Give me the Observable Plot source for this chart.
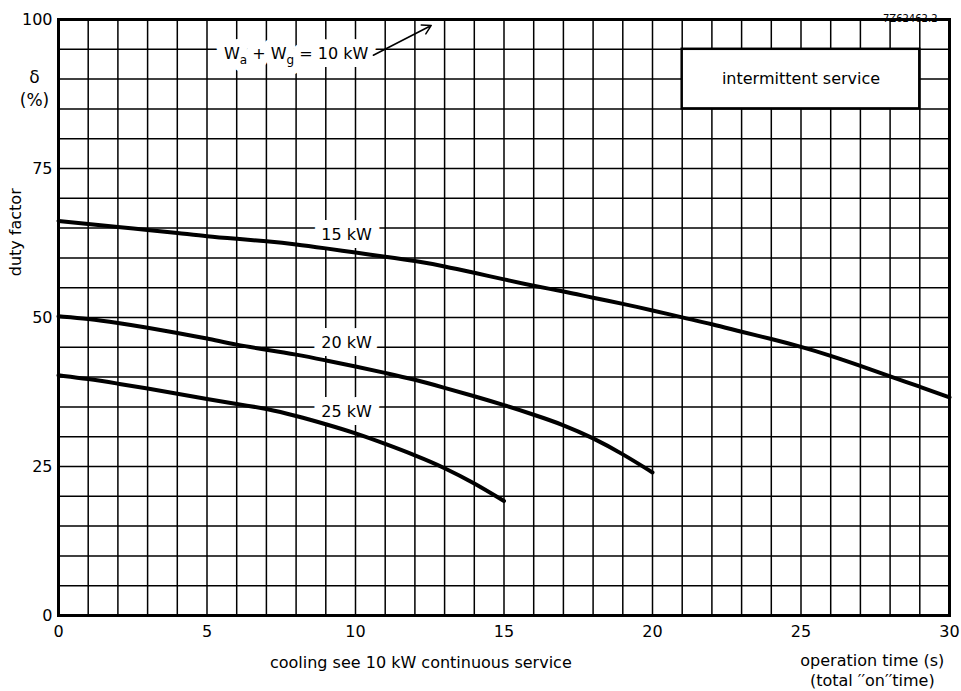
<!DOCTYPE html>
<html><head><meta charset="utf-8">
<script src="https://cdn.jsdelivr.net/npm/d3@7"></script>
<script src="https://cdn.jsdelivr.net/npm/@observablehq/plot@0.6"></script>
<style>body{margin:0;background:#fff} svg{display:block}</style>
</head><body><div id="chart"></div>
<script>
// operation time (s) and duty factor (%) per power level
const time15 = [0, 1, 2, 3, 4, 5, 6, 7, 8, 9, 10, 11, 12, 13, 14, 15, 16, 17, 18, 19, 20, 21, 22, 23, 24, 25, 26, 27, 28, 29, 30];
const duty15 = [66.2, 65.7, 65.2, 64.7, 64.2, 63.6, 63.2, 62.8, 62.3, 61.6, 60.9, 60.2, 59.5, 58.6, 57.5, 56.4, 55.3, 54.4, 53.3, 52.3, 51.2, 50.0, 48.9, 47.6, 46.4, 45.1, 43.6, 41.9, 40.1, 38.4, 36.6];
const time20 = [0, 1, 2, 3, 4, 5, 6, 7, 8, 9, 10, 11, 12, 13, 14, 15, 16, 17, 18, 19, 20];
const duty20 = [50.2, 49.8, 49.1, 48.3, 47.4, 46.5, 45.4, 44.6, 43.8, 42.8, 41.8, 40.7, 39.6, 38.2, 36.8, 35.3, 33.7, 32.0, 29.8, 27.1, 24.0];
const time25 = [0, 1, 2, 3, 4, 5, 6, 7, 8, 9, 10, 11, 12, 13, 14, 15];
const duty25 = [40.3, 39.7, 38.9, 38.1, 37.2, 36.3, 35.5, 34.7, 33.5, 32.1, 30.6, 28.8, 26.9, 24.8, 22.2, 19.2];

const xTicks = [0, 5, 10, 15, 20, 25, 30];
const yTicks = [0, 25, 50, 75, 100];
const curveNames = ["15 kW", "20 kW", "25 kW"];
const curveLabelT = [9.7, 9.7, 9.7];
const curveLabelD = [63.8, 45.7, 34.2];

const series = [
  ...time15.map((t, i) => ({t, d: duty15[i], s: curveNames[0]})),
  ...time20.map((t, i) => ({t, d: duty20[i], s: curveNames[1]})),
  ...time25.map((t, i) => ({t, d: duty25[i], s: curveNames[2]}))
];
const curveLabels = curveNames.map((name, i) => ({name, t: curveLabelT[i], d: curveLabelD[i]}));

// annotations (in data units)
const boxT = [21, 29];
const boxD = [85, 95];
const wLabelAt = [8.0, 94.2];
const arrowT = [10.6, 12.55];
const arrowD = [94.0, 99.0];

const font = "'DejaVu Sans', sans-serif";
const wMarkup = 'W<tspan dy="5" font-size="12">a</tspan><tspan dy="-5"> + W</tspan><tspan dy="5" font-size="12">g</tspan><tspan dy="-5"> = 10 kW</tspan>';

const chart = Plot.plot({
  width: 961,
  height: 691,
  marginLeft: 58,
  marginRight: 12,
  marginTop: 19,
  marginBottom: 76,
  x: {domain: [0, 30]},
  y: {domain: [0, 100]},
  style: {fontFamily: font, fontSize: "16px", color: "black", background: "white"},
  marks: [
    Plot.ruleX(d3.range(0, 31), {stroke: "black", strokeWidth: 1.5}),
    Plot.ruleY(d3.range(0, 101, 5), {stroke: "black", strokeWidth: 1.5}),
    // label backgrounds that blank out the grid, drawn under the curves
    Plot.text(curveLabels, {x: "t", y: "d", text: "name", fill: "white", stroke: "white", strokeWidth: 16, fontSize: 16}),
    Plot.line(series, {x: "t", y: "d", z: "s", stroke: "black", strokeWidth: 4, curve: "basis"}),
    Plot.text(curveLabels, {x: "t", y: "d", text: "name", fill: "black", fontSize: 16}),
    Plot.rect([0], {x1: () => boxT[0], x2: () => boxT[1], y1: () => boxD[0], y2: () => boxD[1], fill: "white", stroke: "black", strokeWidth: 2.5}),
    Plot.text(["intermittent service"], {x: () => (boxT[0] + boxT[1]) / 2, y: () => (boxD[0] + boxD[1]) / 2, text: d => d, fontSize: 16}),
    Plot.text(["W_a + W_g = 10 kW"], {x: () => wLabelAt[0], y: () => wLabelAt[1], text: d => d, fill: "white", stroke: "white", strokeWidth: 16, fontSize: 16, className: "wlabel-halo"}),
    Plot.text(["W_a + W_g = 10 kW"], {x: () => wLabelAt[0], y: () => wLabelAt[1], text: d => d, fill: "black", fontSize: 16, className: "wlabel"}),
    Plot.arrow([0], {x1: () => arrowT[0], y1: () => arrowD[0], x2: () => arrowT[1], y2: () => arrowD[1], stroke: "black", strokeWidth: 1.5, headLength: 10}),
    Plot.frame({stroke: "black", strokeWidth: 3}),
    Plot.axisX(xTicks, {tickSize: 0, tickPadding: 10, fontSize: 16, label: null}),
    Plot.axisY(yTicks, {tickSize: 0, tickPadding: 6, fontSize: 16, label: null}),
    Plot.text(["δ"], {y: () => 90.3, text: d => d, frameAnchor: "left", textAnchor: "middle", dx: -24, fontSize: 17}),
    Plot.text(["(%)"], {y: () => 86.4, text: d => d, frameAnchor: "left", textAnchor: "middle", dx: -24, fontSize: 17}),
    Plot.text(["duty factor"], {y: () => 64.3, text: d => d, frameAnchor: "left", textAnchor: "middle", dx: -43, rotate: -90, fontSize: 16}),
    Plot.text(["cooling see 10 kW continuous service"], {x: () => 12.2, text: d => d, frameAnchor: "bottom", dy: 52, fontSize: 16}),
    Plot.text(["operation time (s)"], {x: () => 27.4, text: d => d, frameAnchor: "bottom", dy: 50, fontSize: 16}),
    Plot.text(["(total \u2032\u2032on\u2032\u2032time)"], {x: () => 27.4, text: d => d, frameAnchor: "bottom", dy: 70, fontSize: 16}),
    Plot.text(["7Z62462.2"], {text: d => d, frameAnchor: "top-right", dx: -12, dy: -5, fontSize: 10})
  ]
});

// subscripts in the W_a + W_g label
for (const sel of [".wlabel-halo text", ".wlabel text"]) {
  const el = chart.querySelector(sel);
  if (el) el.innerHTML = wMarkup;
}
document.getElementById("chart").appendChild(chart);
</script>
</body></html>
